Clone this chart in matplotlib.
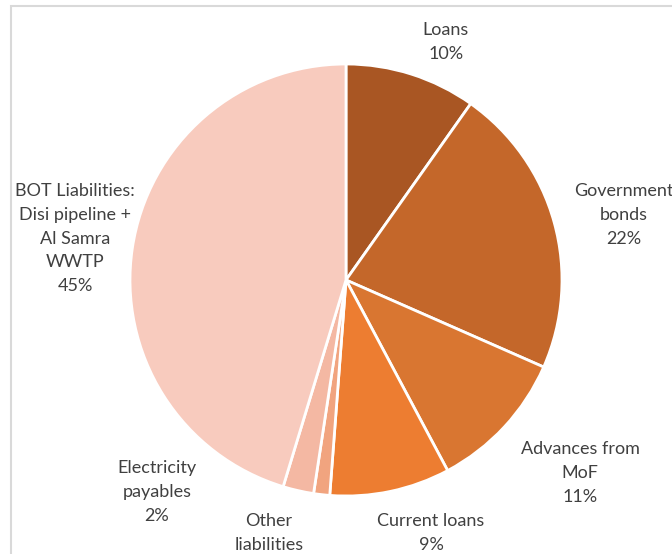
import matplotlib
matplotlib.use("Agg")
import matplotlib.pyplot as plt
from matplotlib.patches import Rectangle

categories = ["Loans", "Government\nbonds", "Advances from\nMoF", "Current loans",
              "Other\nliabilities", "Electricity\npayables",
              "BOT Liabilities:\nDisi pipeline +\nAl Samra\nWWTP"]
values = [9.8, 21.8, 10.6, 9.0, 1.2, 2.3, 45.3]
pct_labels = ["10%", "22%", "11%", "9%", "1%", "2%", "45%"]
colors = ["#A95623", "#C4672A", "#D97631", "#ED7D31", "#F1A47F", "#F4B8A3", "#F8CBBE"]

W, H = 672, 554
fig = plt.figure(figsize=(W / 100, H / 100), dpi=100)
ax = fig.add_axes([0, 0, 1, 1])
ax.set_xlim(0, W)
ax.set_ylim(0, H)
ax.set_aspect("equal")
ax.axis("off")

# chart frame
ax.add_patch(Rectangle((11, -20), 800, H - 6 + 20, fill=False,
                       edgecolor="#D9D9D9", linewidth=1.5))

cx, cy, r = 346, H - 280, 216
ax.pie(values, colors=colors, startangle=90, counterclock=False,
       center=(cx, cy), radius=r, frame=True,
       wedgeprops=dict(edgecolor="white", linewidth=2))
ax.set_xlim(0, W)
ax.set_ylim(0, H)
ax.axis("off")

# label positions (pixel coords: center x, top y of first line)
label_pos = [(446, 22), (624, 183), (580, 441), (431, 513),
             (269, 513), (157, 460), (75, 183)]
for cat, pct, (x, y) in zip(categories, pct_labels, label_pos):
    txt = cat + "\n" + pct if pct != "1%" else cat
    ax.text(x, H - y, txt, ha="center", va="top", fontsize=13,
            family=["Lato", "DejaVu Sans"], color="#404040",
            linespacing=1.6)

fig.savefig("out.png", dpi=100)
